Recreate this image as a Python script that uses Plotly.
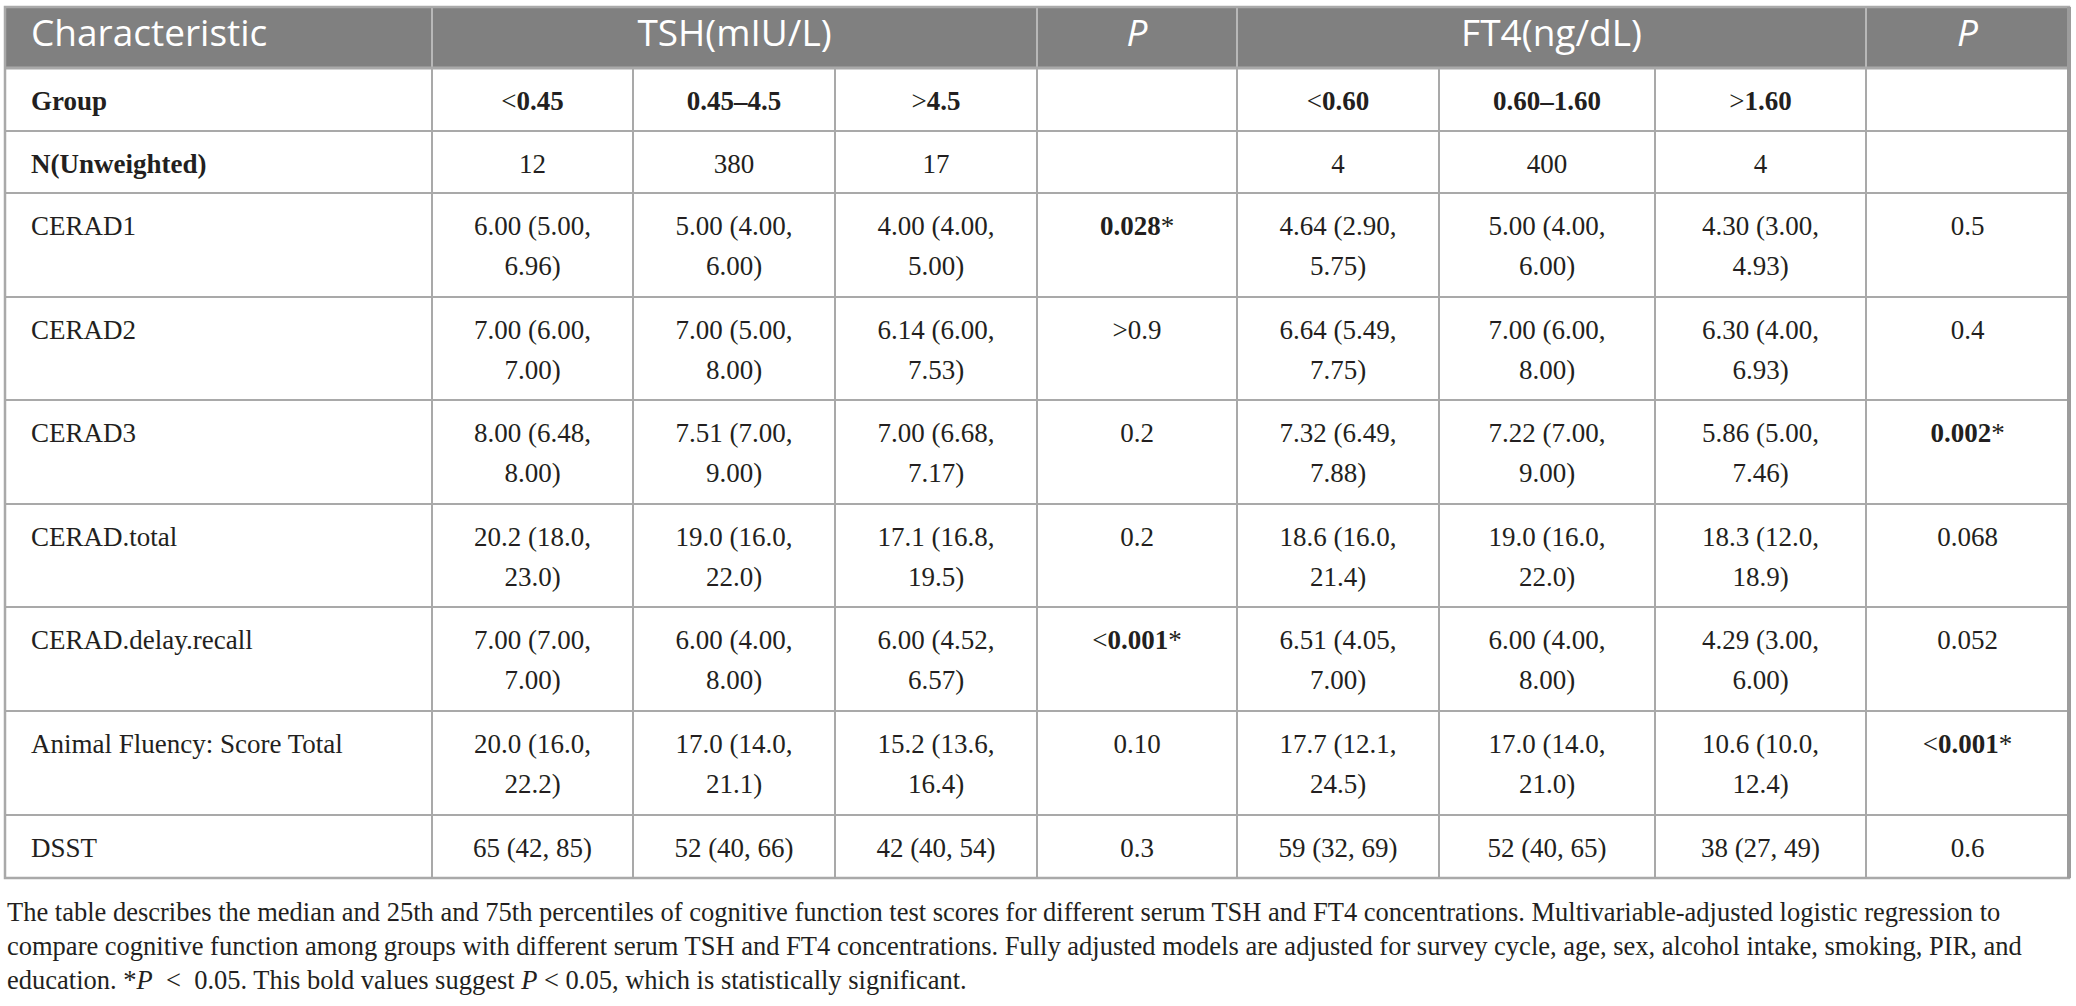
import plotly.graph_objects as go

# ---- table content ----
row_labels = ["Group", "N(Unweighted)", "CERAD1", "CERAD2", "CERAD3", "CERAD.total",
              "CERAD.delay.recall", "Animal Fluency: Score Total", "DSST"]
tsh_groups = ["<0.45", "0.45–4.5", ">4.5"]
ft4_groups = ["<0.60", "0.60–1.60", ">1.60"]
tsh_n = [12, 380, 17]
ft4_n = [4, 400, 4]

tsh_low = ["6.00 (5.00, 6.96)", "7.00 (6.00, 7.00)", "8.00 (6.48, 8.00)", "20.2 (18.0, 23.0)",
           "7.00 (7.00, 7.00)", "20.0 (16.0, 22.2)", "65 (42, 85)"]
tsh_mid = ["5.00 (4.00, 6.00)", "7.00 (5.00, 8.00)", "7.51 (7.00, 9.00)", "19.0 (16.0, 22.0)",
           "6.00 (4.00, 8.00)", "17.0 (14.0, 21.1)", "52 (40, 66)"]
tsh_high = ["4.00 (4.00, 5.00)", "6.14 (6.00, 7.53)", "7.00 (6.68, 7.17)", "17.1 (16.8, 19.5)",
            "6.00 (4.52, 6.57)", "15.2 (13.6, 16.4)", "42 (40, 54)"]
tsh_p = ["0.028", ">0.9", "0.2", "0.2", "<0.001", "0.10", "0.3"]
tsh_sig = [True, False, False, False, True, False, False]

ft4_low = ["4.64 (2.90, 5.75)", "6.64 (5.49, 7.75)", "7.32 (6.49, 7.88)", "18.6 (16.0, 21.4)",
           "6.51 (4.05, 7.00)", "17.7 (12.1, 24.5)", "59 (32, 69)"]
ft4_mid = ["5.00 (4.00, 6.00)", "7.00 (6.00, 8.00)", "7.22 (7.00, 9.00)", "19.0 (16.0, 22.0)",
           "6.00 (4.00, 8.00)", "17.0 (14.0, 21.0)", "52 (40, 65)"]
ft4_high = ["4.30 (3.00, 4.93)", "6.30 (4.00, 6.93)", "5.86 (5.00, 7.46)", "18.3 (12.0, 18.9)",
            "4.29 (3.00, 6.00)", "10.6 (10.0, 12.4)", "38 (27, 49)"]
ft4_p = ["0.5", "0.4", "0.002", "0.068", "0.052", "<0.001", "0.6"]
ft4_sig = [False, False, True, False, False, True, False]

header_top = ["Characteristic", "TSH(mIU/L)", "P", "FT4(ng/dL)", "P"]

footnote = [
    "The table describes the median and 25th and 75th percentiles of cognitive function test scores "
    "for different serum TSH and FT4 concentrations. Multivariable-adjusted logistic regression to",
    "compare cognitive function among groups with different serum TSH and FT4 concentrations. "
    "Fully adjusted models are adjusted for survey cycle, age, sex, alcohol intake, smoking, PIR, and",
    "education. *<i>P</i> &nbsp;&lt;&nbsp; 0.05. This bold values suggest <i>P</i> &lt; 0.05, "
    "which is statistically significant.",
]

# ---- layout geometry (pixels, axes are set up 1:1 with the page) ----
W, H = 2076, 1006
col_edges = [5, 432, 633, 835, 1037, 1237, 1439, 1655, 1866, 2069]
header_span = [(0, 1), (1, 4), (4, 5), (5, 8), (8, 9)]   # column spans of the top header cells
header_y0, header_y1 = 7, 68
row_heights = [63, 62, 104, 103, 104, 103, 104, 104, 63]
LINE1, LINE_GAP = 35, 40
FOOT_Y0, FOOT_GAP = 912, 34
PAD_LEFT = 26

SERIF = "Liberation Serif, Times New Roman, serif"
SANS = "Open Sans, Lato, sans-serif"
INK = "#231f20"
GRID = "#a9a9a9"
HEAD_BG = "#808080"


def esc(s):
    return s.replace("<", "&lt;").replace(">", "&gt;")


def bold_value(s, star=False):
    # comparison sign stays regular weight, the number goes bold
    pre = ""
    if s[0] in "<>":
        pre, s = esc(s[0]), s[1:]
    return pre + "<b>" + s + "</b>" + ("*" if star else "")


def p_cell(s, sig):
    return bold_value(s, star=True) if sig else esc(s)


def wrap(s):
    # the long "median (q1, q3)" strings break onto a second line
    if len(s) > 12:
        i = s.rfind(" ")
        return [s[:i], s[i + 1:]]
    return [s]


# assemble rows of cells
rows = [
    ["<b>Group</b>"] + [bold_value(g) for g in tsh_groups] + [""] + [bold_value(g) for g in ft4_groups] + [""],
    ["<b>N(Unweighted)</b>"] + [str(n) for n in tsh_n] + [""] + [str(n) for n in ft4_n] + [""],
]
for i in range(len(tsh_low)):
    rows.append([row_labels[i + 2], tsh_low[i], tsh_mid[i], tsh_high[i], p_cell(tsh_p[i], tsh_sig[i]),
                 ft4_low[i], ft4_mid[i], ft4_high[i], p_cell(ft4_p[i], ft4_sig[i])])

row_edges = [header_y1]
for h in row_heights:
    row_edges.append(row_edges[-1] + h)

fig = go.Figure()

# header background + body grid
shapes = [dict(type="rect", x0=col_edges[0], x1=col_edges[-1], y0=header_y0 + 1, y1=header_y1 - 1,
               fillcolor=HEAD_BG, line=dict(width=0), layer="below")]
for y in row_edges[1:-1]:
    shapes.append(dict(type="line", x0=col_edges[0], x1=col_edges[-1], y0=y, y1=y,
                       line=dict(color=GRID, width=2)))
for x in col_edges[1:-1]:
    shapes.append(dict(type="line", x0=x, x1=x, y0=row_edges[0], y1=row_edges[-1],
                       line=dict(color=GRID, width=2)))
for a, b in header_span[1:]:
    x = col_edges[a]
    shapes.append(dict(type="line", x0=x, x1=x, y0=header_y0, y1=header_y1,
                       line=dict(color="#b8b8b8", width=2)))
shapes.append(dict(type="line", x0=col_edges[0], x1=col_edges[-1], y0=header_y1, y1=header_y1,
                   line=dict(color=GRID, width=3)))
shapes.append(dict(type="rect", x0=col_edges[0], x1=col_edges[-1], y0=header_y0, y1=row_edges[-1],
                   line=dict(color=GRID, width=2.5)))
shapes.append(dict(type="line", x0=col_edges[-1], x1=col_edges[-1], y0=header_y0, y1=row_edges[-1],
                   line=dict(color="#9c9c9c", width=4)))

# header text
hy = (header_y0 + header_y1) / 2 - 1
for (a, b), label in zip(header_span, header_top):
    txt = "<i>P</i>" if label == "P" else label
    if a == 0:
        fig.add_trace(go.Scatter(x=[col_edges[0] + PAD_LEFT], y=[hy], mode="text", text=[txt],
                                 textposition="middle right", hoverinfo="skip",
                                 textfont=dict(family=SANS, size=37, color="white")))
    else:
        fig.add_trace(go.Scatter(x=[(col_edges[a] + col_edges[b]) / 2], y=[hy], mode="text", text=[txt],
                                 textposition="middle center", hoverinfo="skip",
                                 textfont=dict(family=SANS, size=37, color="white")))

# body text, one text trace per column
for c in range(len(col_edges) - 1):
    xs, ys, ts = [], [], []
    for r, row in enumerate(rows):
        lines = [row[c]] if (c == 0 or "<" in row[c]) else wrap(row[c])
        for k, line in enumerate(lines):
            if not line:
                continue
            xs.append(col_edges[0] + PAD_LEFT if c == 0 else (col_edges[c] + col_edges[c + 1]) / 2)
            ys.append(row_edges[r] + LINE1 + LINE_GAP * k)
            ts.append(line)
    fig.add_trace(go.Scatter(x=xs, y=ys, mode="text", text=ts, hoverinfo="skip",
                             textposition="middle right" if c == 0 else "middle center",
                             textfont=dict(family=SERIF, size=27, color=INK)))

# footnote
for k, line in enumerate(footnote):
    fig.add_annotation(x=col_edges[0], y=FOOT_Y0 + FOOT_GAP * k, text=line, showarrow=False,
                       xanchor="left", yanchor="middle",
                       font=dict(family=SERIF, size=26.5, color=INK))

fig.update_layout(
    width=W, height=H,
    margin=dict(l=0, r=0, t=0, b=0),
    paper_bgcolor="white", plot_bgcolor="white",
    showlegend=False,
    shapes=shapes,
    xaxis=dict(range=[0, W], visible=False, fixedrange=True),
    yaxis=dict(range=[H, 0], visible=False, fixedrange=True),
)

# drop the browser's default body margin so page pixels line up with the axes
fig.write_html("out.html", config={"displayModeBar": False},
               post_script="document.body.style.margin='0';")
